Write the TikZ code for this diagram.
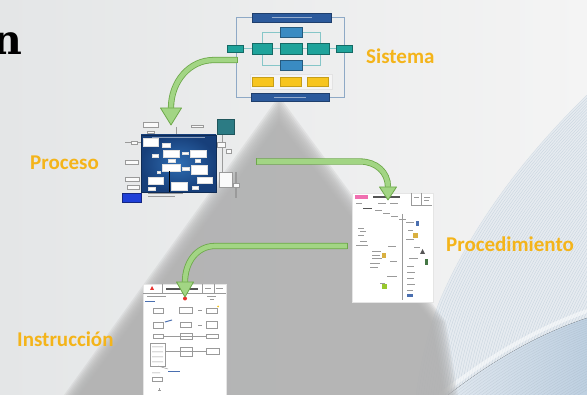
\documentclass[tikz,border=0pt]{standalone}
\usepackage{fontspec}
\setmainfont{Carlito}
\newfontfamily\slabfont{DejaVu Serif}
\usetikzlibrary{calc}
\definecolor{bgA}{HTML}{E4E6E7}
\definecolor{bgB}{HTML}{F4F4F4}
\definecolor{pyrc}{HTML}{B0B0B0}
\definecolor{lblc}{HTML}{F4B41A}
\definecolor{gfill}{HTML}{A2D584}
\definecolor{gedge}{HTML}{6DA84A}
\definecolor{swA}{HTML}{E6EBF0}
\definecolor{swL}{HTML}{C7D3DE}
\definecolor{swB1}{HTML}{E2E9F0}
\definecolor{swB2}{HTML}{BED0E1}
\definecolor{sframe}{HTML}{8EA9C6}
\definecolor{sblue}{HTML}{2C5A9C}
\definecolor{sblue2}{HTML}{3A8BC2}
\definecolor{steal}{HTML}{1FA39B}
\definecolor{stealL}{HTML}{86C6C8}
\definecolor{syel}{HTML}{F7C51E}
\definecolor{pblue1}{HTML}{2F6DB2}
\definecolor{pblue2}{HTML}{173F7A}
\definecolor{pteal}{HTML}{2C7B84}
\definecolor{pbtn}{HTML}{1F3FD8}
\definecolor{tgrey}{HTML}{9A9A9A}
\definecolor{tdark}{HTML}{555555}
\definecolor{pinkc}{HTML}{F06FB0}
\definecolor{redc}{HTML}{E8322E}
\definecolor{icoY}{HTML}{D9B040}
\definecolor{icoB}{HTML}{4A6FB0}
\begin{document}
\begin{tikzpicture}[x=1pt,y=-1pt,
  lbl/.style={font=\bfseries\fontsize{21}{21}\selectfont, text=lblc, inner sep=0pt, anchor=base west},
  garrow/.style={draw=gedge, line width=0.8pt, double=gfill, double distance=4.6pt},
  ghead/.style={fill=gfill, draw=gedge, line width=0.8pt, line join=round},
  box/.style={inner sep=0pt, outer sep=0pt},
  sbar/.style={box, fill=sblue, draw=sblue!70!black, line width=0.4pt},
  stbox/.style={box, fill=steal, draw=steal!65!black, line width=0.4pt},
  sbbox/.style={box, fill=sblue2, draw=sblue2!65!black, line width=0.4pt},
  sybox/.style={box, fill=syel, draw=syel!80!black, line width=0.4pt},
  pw/.style={fill=white, draw=white!75!gray, line width=0.3pt},
  po/.style={fill=white!96!gray, draw=tgrey, line width=0.3pt},
  tl/.style={draw=tgrey, line width=0.5pt},
  td/.style={draw=tdark, line width=0.9pt},
  sheet/.style={box, fill=white, draw=white!80!gray, line width=0.5pt}
]
\useasboundingbox (0,0) rectangle (587,395);
% background
\fill[left color=bgA, right color=bgB] (0,0) rectangle (587,395);
% swoosh A
\begin{scope}
\clip (587,95) .. controls (520,160) and (470,230) .. (440,300) .. controls (428,330) and (420,365) .. (416,395) -- (587,395) -- cycle;
\fill[swA] (400,80) rectangle (587,395);
\foreach \i in {0,...,75} {
  \draw[swL, line width=0.35pt, shift={(\i*2.4,\i*0.5)}] (587,95) .. controls (520,160) and (470,230) .. (440,300) .. controls (428,330) and (420,365) .. (416,395);
}
\end{scope}
% swoosh B
\begin{scope}
\clip (448,395) .. controls (500,355) and (545,332) .. (587,318) -- (587,395) -- cycle;
\fill[left color=swB1, right color=swB2] (440,300) rectangle (587,395);
\foreach \i in {0,...,30} {
  \draw[swB2!70!black, opacity=0.22, line width=0.35pt, shift={(\i*2.6,\i*1.2)}] (448,395) .. controls (500,355) and (545,332) .. (587,318);
}
\end{scope}
\draw[white, line width=4pt, opacity=0.5] (440,395) .. controls (495,352) and (540,328) .. (587,311);
% pyramid with soft edges
\foreach \d in {0,...,9} {
  \fill[pyrc, opacity=0.2] (279,96+3*\d) -- (446-1.6*\d,322) -- (458-1.6*\d,395) -- (64+1.7*\d,395) -- cycle;
}
% black letter at top-left
\node[font=\slabfont\bfseries\fontsize{41}{41}\selectfont, anchor=base east, inner sep=0pt] (ttl) at (23,55) {n};

% ===== Sistema thumbnail =====
\node[box, draw=sframe, line width=0.9pt, minimum width=108pt, minimum height=80pt] (sis) at (290,57) {};
\draw[stealL, line width=0.9pt] (262,32) rectangle (320,65);
\draw[stealL, line width=0.9pt] (243,48.5) -- (336,48.5);
\node[sbar, minimum width=79pt, minimum height=9pt] (stop) at (291.5,17.5) {};
\node[sbar, minimum width=78pt, minimum height=8pt] (sbot) at (290,97) {};
\draw[white, opacity=0.5, line width=0.7pt] ($(stop.center)+(-20,0)$) -- ($(stop.center)+(20,0)$);
\draw[white, opacity=0.5, line width=0.7pt] ($(sbot.center)+(-16,0)$) -- ($(sbot.center)+(16,0)$);
\node[stbox, minimum width=16pt, minimum height=7pt] (sl) at (235,48.5) {};
\node[stbox, minimum width=20pt, minimum height=11pt] (s1) at (262,48.5) {};
\node[stbox, minimum width=22pt, minimum height=11pt] (s2) at (291,48.5) {};
\node[stbox, minimum width=22pt, minimum height=11pt] (s3) at (318,48.5) {};
\node[stbox, minimum width=16pt, minimum height=7pt] (sr) at (344,48.5) {};
\node[sbbox, minimum width=22pt, minimum height=10pt] (stb) at (291,32) {};
\node[sbbox, minimum width=22pt, minimum height=10pt] (sbb) at (291,65) {};
\node[box, fill=white!92!gray, draw=white!78!gray, line width=0.5pt, minimum width=82pt, minimum height=15pt] (spanel) at (291,81.5) {};
\node[sybox, minimum width=21pt, minimum height=9pt] (sy1) at (262.5,81.5) {};
\node[sybox, minimum width=21pt, minimum height=9pt] (sy2) at (291,81.5) {};
\node[sybox, minimum width=21pt, minimum height=9pt] (sy3) at (318,81.5) {};

% ===== Proceso thumbnail =====
\draw[tgrey, line width=0.5pt] (176,127) -- (176,135);
\draw[tgrey, line width=0.5pt] (222,134) -- (222,172);
\draw[tgrey, line width=1.2pt] (236,172) -- (236,198);
\draw[tgrey, line width=0.5pt] (125,142.5) -- (141,142.5);
\node[box, shade, inner color=pblue1, outer color=pblue2, draw=pblue2!70!black, line width=0.5pt, minimum width=75pt, minimum height=57pt] (pro) at (178.5,163.5) {};
\foreach \a/\b/\c/\e in {143/138/158/146, 162/143/170/147, 163/150/179/157, 190/150/206/157, 182/152/188/154, 152/154/158/157, 168/159/175/162, 195/159/200/162, 162/164/180/171, 182/167/189/170, 191/165/207/174, 157/171/160/173, 148/177/163/184, 171/182/187/190, 197/177/212/183, 192/186/198/189, 148/187/155/190}
  \draw[pw] (\a,\b) rectangle (\c,\e);
\draw[black, line width=0.6pt] (169,171) -- (169,192);
\draw[white, opacity=0.5, line width=0.5pt] (152,137) -- (205,137);
\foreach \a/\b/\c/\e in {143/122/158/127, 147/131/154/133, 191/125/203/127, 131/141/137/144, 125/160/138/164, 125/177/139/181, 127/185/139/189, 217/142/225/147, 226/149/231/153, 219/172/232/187, 233/183/239/187}
  \draw[po] (\a,\b) rectangle (\c,\e);
\draw[tgrey, line width=0.8pt] (148,193.5) -- (183,193.5);
\draw[tgrey, line width=0.8pt] (148,196.5) -- (175,196.5);
\node[box, fill=pteal, draw=pteal!70!black, line width=0.4pt, minimum width=17pt, minimum height=15pt] (ptl) at (225.5,126.5) {};
\node[box, fill=pbtn, draw=pbtn!60!black, line width=0.5pt, minimum width=19pt, minimum height=9pt] (pb) at (131.5,197.5) {};

% ===== Procedimiento thumbnail =====
\node[sheet, minimum width=81pt, minimum height=109pt] (pdm) at (392.5,247.5) {};
\fill[pinkc] (355,195) rectangle (368,199.5);
\draw[tdark, line width=1.4pt] (373,197) -- (400,197);
\draw[tl] (411,193) -- (411,205) (411,205) -- (432,205) (421,193) -- (421,205);
\draw[tl] (414,197) -- (419,197) (424,197) -- (430,197) (424,200) -- (429,200);
\draw[tl] (356,203) -- (362,203) (378,203) -- (386,203) (390,203) -- (398,203);
\draw[td] (363,208) -- (372,208);
\draw[tl] (375,210) -- (382,210) (383,213) -- (390,213) (391,216) -- (398,216) (399,219) -- (406,219);
\draw[tl] (402,214) -- (402,300);
\draw[tl] (406,222) -- (414,222) (408,230) -- (413,230) (406,239) -- (414,239) (414,247) -- (420,247) (409,258) -- (418,258) (407,266) -- (414,266) (407,272) -- (415,272) (407,278) -- (414,278) (407,284) -- (415,284) (407,290) -- (413,290);
\fill[icoB] (416,221) rectangle (419,226);
\fill[icoY] (413,233) rectangle (418,238);
\fill[tdark] (420,254) -- (422.5,249) -- (425,254) -- cycle;
\fill[tdark!80!green] (425,259) rectangle (428,265);
\fill[icoB] (407,294.5) rectangle (413,297);
\draw[tl] (358,228) -- (364,228) (360,231) -- (366,231) (358,235) -- (364,235) (360,241) -- (367,241) (356,245) -- (368,245);
\draw[tl] (372,251) -- (381,251) (372,255) -- (380,255) (372,258) -- (382,258) (370,263) -- (380,263) (370,267) -- (378,267) (387,276) -- (397,276) (380,283) -- (385,283);
\fill[icoY] (382,253) rectangle (386,258);
\fill[icoY!70!green] (382,284) rectangle (387,289);
\draw[tl] (390,261) -- (397,261) (388,246) -- (396,246);

% ===== Instruccion thumbnail =====
\node[sheet, minimum width=83pt, minimum height=114pt] (ins) at (184.5,341) {};
\draw[tl] (143,293) -- (226,293) (162,284) -- (162,293) (202,284) -- (202,293) (214,284) -- (214,293);
\draw[tdark, line width=1.4pt] (166,289) -- (198,289);
\fill[redc] (150,290) -- (152,286) -- (154,290) -- cycle;
\draw[tl] (147,296) -- (166,296) (207,296) -- (216,296) (205,288) -- (211,288) (216,288) -- (223,288);
\fill[redc] (185,298.5) circle (2pt);
\draw[icoB, line width=0.8pt] (145,301) -- (155,301);
\draw[tl] (210,299) -- (214,299);
\foreach \a/\b/\c/\e in {153/308/163/313, 179/307/192/313, 206/308/217/313, 153/322/163/328, 180/322/191/327, 206/321/217/328, 153/334/163/338, 180/333/192/339, 206/334/218/338, 180/347/192/356, 206/348/219/354, 150/343/165/366, 152/377/162/381}
  \draw[tl, line width=0.4pt] (\a,\b) rectangle (\c,\e);
\draw[tl] (163,336) -- (206,336) (165,351.5) -- (206,351.5) (198,310) -- (202,310) (198,325) -- (202,325);
\draw[tl] (152,347) -- (163,347) (152,352) -- (163,352) (152,357) -- (163,357) (152,362) -- (163,362) (158,366) -- (168,369) (152,373) -- (160,373);
\draw[icoB, line width=1.2pt] (168,371.5) -- (180,371.5);
\draw[icoB, line width=1pt] (165,322) -- (172,320);
\fill[syel] (218,306.5) circle (1pt);
\draw[tl] (158,390) -- (161,390) (159.5,388.5) -- (159.5,391.5);

% ===== Arrows =====
\coordinate (a1s) at (237,60);
\coordinate (h1) at (171,108);
\coordinate (t1) at (171,125);
\draw[garrow] (a1s) -- (214,60) .. controls (189,60) and (171,82) .. (h1);
\draw[gedge, line width=0.8pt] ($(a1s)+(0,-3.1)$) -- ($(a1s)+(0,3.1)$);
\draw[ghead] ($(h1)+(-10.5,0)$) -- ($(h1)+(10.5,0)$) -- (t1) -- cycle;

\coordinate (a2s) at (256,161.5);
\coordinate (h2) at (388,187);
\coordinate (t2) at (388,200);
\draw[garrow] (a2s) -- (360,161.5) .. controls (376,161.5) and (388,172) .. (h2);
\draw[gedge, line width=0.8pt] ($(a2s)+(0,-3.1)$) -- ($(a2s)+(0,3.1)$);
\draw[ghead] ($(h2)+(-8.5,0)$) -- ($(h2)+(8.5,0)$) -- (t2) -- cycle;

\coordinate (a3s) at (347,246);
\coordinate (h3) at (185,282);
\coordinate (t3) at (185,297);
\draw[garrow] (a3s) -- (215,246) .. controls (197,246) and (185,262) .. (h3);
\draw[gedge, line width=0.8pt] ($(a3s)+(0,-3.1)$) -- ($(a3s)+(0,3.1)$);
\draw[ghead] ($(h3)+(-8.5,0)$) -- ($(h3)+(8.5,0)$) -- (t3) -- cycle;

% ===== Labels =====
\node[lbl] (lsis) at (366,64) {Sistema};
\node[lbl] (lpro) at (30,170) {Proceso};
\node[lbl] (lpdm) at (446,252) {Procedimiento};
\node[lbl] (lins) at (17,347) {Instrucción};
\end{tikzpicture}
\end{document}
